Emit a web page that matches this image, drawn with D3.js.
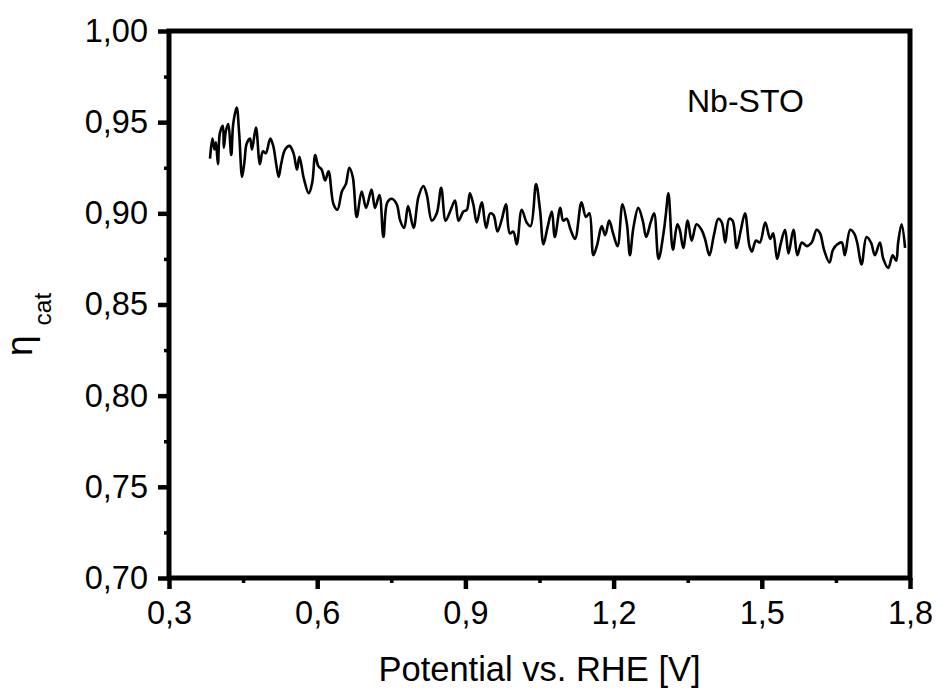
<!DOCTYPE html>
<html>
<head>
<meta charset="utf-8">
<script src="https://cdn.jsdelivr.net/npm/d3@7"></script>
<style>
  html, body { margin: 0; padding: 0; background: #fff; }
  svg { display: block; }
  text { font-family: "Liberation Sans", Arial, sans-serif; fill: #000; }
</style>
</head>
<body>
<svg id="chart" width="938" height="688"></svg>
<script>
// Catalytic efficiency of Nb-STO vs. applied potential
const voltage = [
  0.383, 0.388, 0.392, 0.395, 0.399, 0.403, 0.409, 0.411, 0.415, 0.420,
  0.426, 0.430, 0.437, 0.442, 0.448, 0.453, 0.457, 0.464, 0.468, 0.476,
  0.484, 0.490, 0.496, 0.505, 0.511, 0.517, 0.522, 0.527, 0.535, 0.544,
  0.552, 0.559, 0.564, 0.573, 0.583, 0.590, 0.596, 0.602, 0.609, 0.616,
  0.623, 0.633, 0.641, 0.650, 0.658, 0.665, 0.672, 0.680, 0.690, 0.699,
  0.710, 0.717, 0.726, 0.734, 0.742, 0.751, 0.761, 0.768, 0.776, 0.784,
  0.795, 0.805, 0.815, 0.822, 0.832, 0.842, 0.851, 0.860, 0.869, 0.879,
  0.886, 0.896, 0.903, 0.909, 0.916, 0.923, 0.933, 0.942, 0.950, 0.957,
  0.965, 0.974, 0.982, 0.990, 0.997, 1.004, 1.014, 1.024, 1.032, 1.043,
  1.051, 1.058, 1.066, 1.075, 1.081, 1.092, 1.098, 1.105, 1.113, 1.122,
  1.135, 1.144, 1.151, 1.159, 1.167, 1.176, 1.183, 1.191, 1.199, 1.208,
  1.218, 1.227, 1.233, 1.240, 1.250, 1.259, 1.266, 1.275, 1.282, 1.291,
  1.301, 1.306, 1.311, 1.320, 1.329, 1.334, 1.341, 1.350, 1.358, 1.368,
  1.378, 1.385, 1.394, 1.403, 1.412, 1.419, 1.426, 1.434, 1.441, 1.449,
  1.457, 1.466, 1.475, 1.480, 1.488, 1.496, 1.507, 1.517, 1.523, 1.531,
  1.538, 1.547, 1.554, 1.564, 1.572, 1.581, 1.591, 1.601, 1.611, 1.618,
  1.626, 1.637, 1.644, 1.653, 1.662, 1.668, 1.679, 1.687, 1.693, 1.702,
  1.712, 1.721, 1.729, 1.739, 1.746, 1.756, 1.765, 1.772, 1.776, 1.783,
  1.790
];
const eta = [
  0.930, 0.941, 0.935, 0.939, 0.927, 0.944, 0.948, 0.936, 0.945, 0.949,
  0.932, 0.949, 0.958, 0.944, 0.920, 0.929, 0.938, 0.941, 0.935, 0.947,
  0.927, 0.934, 0.933, 0.941, 0.937, 0.927, 0.920, 0.927, 0.935, 0.937,
  0.933, 0.924, 0.931, 0.919, 0.911, 0.917, 0.932, 0.926, 0.924, 0.918,
  0.923, 0.905, 0.902, 0.912, 0.916, 0.925, 0.920, 0.898, 0.912, 0.903,
  0.913, 0.903, 0.910, 0.887, 0.906, 0.908, 0.905, 0.896, 0.892, 0.904,
  0.892, 0.909, 0.915, 0.910, 0.896, 0.900, 0.914, 0.896, 0.901, 0.907,
  0.896, 0.901, 0.902, 0.911, 0.905, 0.895, 0.906, 0.892, 0.900, 0.899,
  0.890, 0.897, 0.905, 0.889, 0.890, 0.883, 0.902, 0.895, 0.893, 0.916,
  0.902, 0.883, 0.892, 0.901, 0.887, 0.903, 0.896, 0.897, 0.891, 0.886,
  0.906, 0.898, 0.900, 0.877, 0.883, 0.893, 0.888, 0.896, 0.889, 0.882,
  0.905, 0.894, 0.877, 0.892, 0.903, 0.896, 0.887, 0.895, 0.900, 0.875,
  0.889, 0.900, 0.911, 0.880, 0.894, 0.891, 0.881, 0.896, 0.885, 0.894,
  0.891, 0.886, 0.877, 0.888, 0.897, 0.895, 0.884, 0.897, 0.896, 0.881,
  0.890, 0.900, 0.882, 0.879, 0.885, 0.884, 0.895, 0.886, 0.889, 0.875,
  0.883, 0.891, 0.878, 0.891, 0.877, 0.884, 0.882, 0.884, 0.891, 0.889,
  0.880, 0.873, 0.880, 0.883, 0.884, 0.877, 0.891, 0.889, 0.884, 0.872,
  0.887, 0.884, 0.877, 0.884, 0.875, 0.870, 0.877, 0.874, 0.884, 0.894,
  0.881
];

const xTicks = [0.3, 0.6, 0.9, 1.2, 1.5, 1.8];
const xMinorTicks = [0.45, 0.75, 1.05, 1.35, 1.65];
const yTicks = [0.70, 0.75, 0.80, 0.85, 0.90, 0.95, 1.00];
const yMinorTicks = [0.725, 0.775, 0.825, 0.875, 0.925, 0.975];
const seriesLabel = "Nb-STO";
const xTitle = "Potential vs. RHE [V]";

const margin = { left: 169, right: 28, top: 31, bottom: 110 };
const W = 938, H = 688;
const svg = d3.select("#chart");

const x = d3.scaleLinear().domain([0.3, 1.8]).range([margin.left, W - margin.right]);
const y = d3.scaleLinear().domain([0.70, 1.00]).range([H - margin.bottom, margin.top]);

const comma = (fmt) => (d) => d3.format(fmt)(d).replace(".", ",");

// major ticks with labels
const xAxis = svg.append("g")
  .attr("transform", `translate(0,${y(0.70)})`)
  .call(d3.axisBottom(x).tickValues(xTicks).tickSize(11).tickPadding(12).tickFormat(comma(".1f")));
const yAxis = svg.append("g")
  .attr("transform", `translate(${x(0.3)},0)`)
  .call(d3.axisLeft(y).tickValues(yTicks).tickSize(11).tickPadding(10).tickFormat(comma(".2f")));

// minor ticks
const xMinor = svg.append("g")
  .attr("transform", `translate(0,${y(0.70)})`)
  .call(d3.axisBottom(x).tickValues(xMinorTicks).tickSize(5).tickFormat(""));
const yMinor = svg.append("g")
  .attr("transform", `translate(${x(0.3)},0)`)
  .call(d3.axisLeft(y).tickValues(yMinorTicks).tickSize(5).tickFormat(""));

[xAxis, yAxis, xMinor, yMinor].forEach(g => g.select(".domain").remove());
[xAxis, yAxis].forEach(g => g.selectAll(".tick line").attr("stroke", "#000").attr("stroke-width", 4.5));
[xMinor, yMinor].forEach(g => g.selectAll(".tick line").attr("stroke", "#000").attr("stroke-width", 3.5));
[xAxis, yAxis].forEach(g => g.selectAll(".tick text")
  .style("font-family", '"Liberation Sans", Arial, sans-serif')
  .attr("font-size", 32.5).attr("fill", "#000"));

// data curve
const line = d3.line()
  .x((d, i) => x(voltage[i]))
  .y((d, i) => y(eta[i]))
  .curve(d3.curveCatmullRom.alpha(0.5));
svg.append("path")
  .datum(eta)
  .attr("d", line)
  .attr("fill", "none")
  .attr("stroke", "#000")
  .attr("stroke-width", 2.6)
  .attr("stroke-linejoin", "round");

// frame
svg.append("rect")
  .attr("x", x(0.3)).attr("y", y(1.0))
  .attr("width", x(1.8) - x(0.3)).attr("height", y(0.70) - y(1.0))
  .attr("fill", "none").attr("stroke", "#000").attr("stroke-width", 5);

// series label
svg.append("text")
  .attr("x", 687).attr("y", 112)
  .attr("font-size", 32)
  .text(seriesLabel);

// axis titles
svg.append("text")
  .attr("x", (x(0.3) + x(1.8)) / 2).attr("y", 681)
  .attr("text-anchor", "middle")
  .attr("font-size", 34.5)
  .text(xTitle);

const yt = svg.append("text")
  .attr("transform", "translate(32,356) rotate(-90)")
  .attr("font-size", 37);
yt.append("tspan").text("η");
yt.append("tspan").attr("dx", 10).attr("dy", 19).attr("font-size", 24.5).text("cat");
</script>
</body>
</html>
